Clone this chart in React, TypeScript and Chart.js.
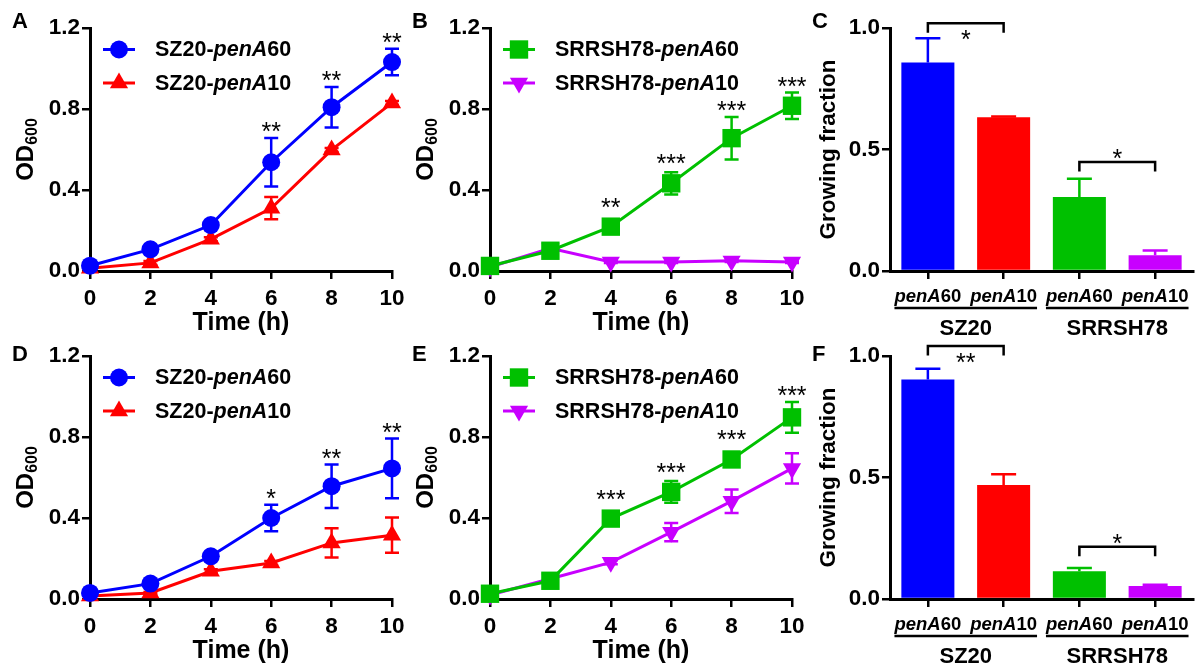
import React, { useEffect, useRef } from 'react';
import { Chart, registerables } from 'chart.js';
import { drawPoint } from 'chart.js/helpers';

Chart.register(...registerables);

const FONT = '"Liberation Sans", Arial, Helvetica, sans-serif';
const BLUE = '#0000ff';
const RED = '#ff0000';
const GREEN = '#00c000';
const PURPLE = '#c800ff';

// ---------- shared ----------
const timeHours = [0, 2, 4, 6, 8, 10];

// ---------- Panel A ----------
const aNames = ['SZ20-penA60', 'SZ20-penA10'];
const aPenA60 = [0.026, 0.107, 0.227, 0.537, 0.809, 1.032];
const aPenA60Err = [0.01, 0.01, 0.01, 0.12, 0.1, 0.065];
const aPenA10 = [0.013, 0.04, 0.157, 0.31, 0.598, 0.83];
const aPenA10Err = [0.005, 0.01, 0.01, 0.055, 0.01, 0.01];
const aStars = ['', '', '', '**', '**', '**'];

// ---------- Panel B ----------
const bNames = ['SRRSH78-penA60', 'SRRSH78-penA10'];
const bPenA60 = [0.025, 0.1, 0.219, 0.433, 0.656, 0.816];
const bPenA60Err = [0.01, 0.01, 0.01, 0.055, 0.105, 0.065];
const bPenA10 = [0.02, 0.112, 0.045, 0.045, 0.05, 0.045];
const bPenA10Err = [0.005, 0.01, 0.005, 0.005, 0.005, 0.005];
const bStars = ['', '', '**', '***', '***', '***'];

// ---------- Panel D ----------
const dNames = ['SZ20-penA60', 'SZ20-penA10'];
const dPenA60 = [0.03, 0.076, 0.211, 0.4, 0.557, 0.645];
const dPenA60Err = [0.01, 0.01, 0.01, 0.065, 0.107, 0.147];
const dPenA10 = [0.015, 0.03, 0.137, 0.178, 0.277, 0.315];
const dPenA10Err = [0.005, 0.005, 0.01, 0.01, 0.072, 0.087];
const dStars = ['', '', '', '*', '**', '**'];

// ---------- Panel E ----------
const eNames = ['SRRSH78-penA60', 'SRRSH78-penA10'];
const ePenA60 = [0.026, 0.09, 0.397, 0.529, 0.689, 0.897];
const ePenA60Err = [0.01, 0.01, 0.01, 0.054, 0.01, 0.076];
const ePenA10 = [0.02, 0.1, 0.181, 0.33, 0.483, 0.645];
const ePenA10Err = [0.005, 0.01, 0.01, 0.045, 0.058, 0.075];
const eStars = ['', '', '***', '***', '***', '***'];

// ---------- Bar panels (C, F) ----------
const barLabels = ['penA60', 'penA10', 'penA60', 'penA10'];
const barGroups = ['SZ20', 'SRRSH78'];
const barGroupMembers = [[0, 1], [2, 3]];
const barColors = [BLUE, RED, GREEN, PURPLE];

const cFraction = [0.858, 0.633, 0.305, 0.065];
const cFractionErr = [0.1, 0.003, 0.075, 0.019];
const cBracketPairs = [[0, 1], [2, 3]];
const cBracketLevels = [1.02, 0.449];
const cBracketStars = ['*', '*'];
const cBracketStarSide = ['below', 'above'];

const fFraction = [0.903, 0.469, 0.114, 0.054];
const fFractionErr = [0.045, 0.044, 0.014, 0.005];
const fBracketPairs = [[0, 1], [2, 3]];
const fBracketLevels = [1.041, 0.215];
const fBracketStars = ['**', '*'];
const fBracketStarSide = ['below', 'above'];

const odTickStep = 0.4;
const fractionTickStep = 0.5;

// ---------- marker styles ----------
const MARK = {
  circle: { pointStyle: 'circle', radius: 9, rotation: 0 },
  triangle: { pointStyle: 'triangle', radius: 10.5, rotation: 0 },
  square: { pointStyle: 'rect', radius: 13, rotation: 0 },
  down: { pointStyle: 'triangle', radius: 10.5, rotation: 180 },
};

type Mark = { pointStyle: string; radius: number; rotation: number };
type Series = { name: string; values: number[]; errors: number[]; color: string; mark: Mark };

const TICK_SIZE = 22.5;
const STAR_SIZE = 25;

function font(size: number, italic = false, bold = true) {
  return `${italic ? 'italic ' : ''}${bold ? 'bold ' : ''}${size}px ${FONT}`;
}

function richParts(text: string) {
  return text.split(/(penA)/).filter((p) => p.length > 0).map((p) => ({ text: p, italic: p === 'penA' }));
}

function richWidth(ctx: CanvasRenderingContext2D, text: string, size: number) {
  let w = 0;
  for (const p of richParts(text)) {
    ctx.font = font(size, p.italic);
    w += ctx.measureText(p.text).width;
  }
  return w;
}

function drawRich(ctx: CanvasRenderingContext2D, text: string, x: number, y: number, size: number, align: 'left' | 'center') {
  const total = richWidth(ctx, text, size);
  let cx = align === 'center' ? x - total / 2 : x;
  const left = cx;
  ctx.textAlign = 'left';
  for (const p of richParts(text)) {
    ctx.font = font(size, p.italic);
    ctx.fillText(p.text, cx, y);
    cx += ctx.measureText(p.text).width;
  }
  return { left, right: cx };
}

function drawStars(ctx: CanvasRenderingContext2D, text: string, x: number, center: number) {
  ctx.font = font(STAR_SIZE, false, false);
  ctx.textAlign = 'center';
  ctx.textBaseline = 'alphabetic';
  ctx.fillStyle = '#000';
  ctx.fillText(text, x, center + 0.6 * STAR_SIZE);
}

function drawLetter(ctx: CanvasRenderingContext2D, letter: string, top: number) {
  ctx.save();
  ctx.fillStyle = '#000';
  ctx.font = font(22);
  ctx.textAlign = 'left';
  ctx.textBaseline = 'alphabetic';
  ctx.fillText(letter, 12, top);
  ctx.restore();
}

function axisCommon() {
  return {
    grid: { drawOnChartArea: false, drawTicks: true, tickLength: 8, color: '#000', lineWidth: 2.5 },
    border: { display: true, color: '#000', width: 3 },
  };
}

// ---------- line panel ----------
type LinePanel = {
  kind: 'line';
  left: number; top: number; width: number; height: number;
  letter: string; letterDy: number;
  series: Series[];
  stars: string[];
};

function linePlugin(p: LinePanel) {
  return {
    id: 'lineDeco',
    beforeDatasetsDraw(chart: any) {
      const ctx = chart.ctx as CanvasRenderingContext2D;
      const xs = chart.scales.x;
      const ys = chart.scales.y;
      ctx.save();
      ctx.lineWidth = 2.5;
      for (let si = p.series.length - 1; si >= 0; si--) {
        const s = p.series[si];
        ctx.strokeStyle = s.color;
        s.values.forEach((v, j) => {
          const e = s.errors[j];
          const x = xs.getPixelForValue(timeHours[j]);
          const y1 = ys.getPixelForValue(v + e);
          const y2 = ys.getPixelForValue(Math.max(v - e, 0));
          ctx.beginPath();
          ctx.moveTo(x, y1); ctx.lineTo(x, y2);
          ctx.moveTo(x - 7, y1); ctx.lineTo(x + 7, y1);
          ctx.moveTo(x - 7, y2); ctx.lineTo(x + 7, y2);
          ctx.stroke();
        });
      }
      ctx.restore();
    },
    afterDraw(chart: any) {
      const ctx = chart.ctx as CanvasRenderingContext2D;
      const xs = chart.scales.x;
      const ys = chart.scales.y;
      const area = chart.chartArea;
      ctx.save();
      // significance stars above the first series
      const s0 = p.series[0];
      p.stars.forEach((st, j) => {
        if (!st) return;
        const x = xs.getPixelForValue(timeHours[j]);
        const top = Math.min(ys.getPixelForValue(s0.values[j] + s0.errors[j]), ys.getPixelForValue(s0.values[j]) - s0.mark.radius);
        drawStars(ctx, st, x, top - 13);
      });
      // legend
      p.series.forEach((s, i) => {
        const y = area.top + 21.5 + 33.5 * i;
        const lx = area.left;
        ctx.strokeStyle = s.color;
        ctx.lineWidth = 3;
        ctx.beginPath();
        ctx.moveTo(lx + 13, y); ctx.lineTo(lx + 45, y);
        ctx.stroke();
        ctx.fillStyle = s.color;
        drawPoint(ctx, { pointStyle: s.mark.pointStyle as any, radius: s.mark.radius, rotation: s.mark.rotation, borderWidth: 0 } as any, lx + 29, y);
        ctx.fillStyle = '#000';
        ctx.textBaseline = 'middle';
        drawRich(ctx, s.name, lx + 65, y + 1, 21.5, 'left');
      });
      // x title
      ctx.fillStyle = '#000';
      ctx.textBaseline = 'alphabetic';
      ctx.textAlign = 'center';
      ctx.font = font(25);
      ctx.fillText('Time (h)', (area.left + area.right) / 2, area.bottom + 59);
      // y title OD600
      ctx.save();
      const midY = (area.top + area.bottom) / 2;
      ctx.translate(24, midY);
      ctx.rotate(-Math.PI / 2);
      ctx.font = font(24);
      const wOD = ctx.measureText('OD').width;
      ctx.font = font(16);
      const wSub = ctx.measureText('600').width;
      const start = -(wOD + wSub) / 2;
      ctx.textAlign = 'left';
      ctx.font = font(24);
      ctx.fillText('OD', start, 8.6);
      ctx.font = font(16);
      ctx.fillText('600', start + wOD, 13);
      ctx.restore();
      ctx.restore();
      drawLetter(ctx, p.letter, area.top + p.letterDy);
    },
  };
}

function lineConfig(p: LinePanel): any {
  return {
    type: 'line',
    data: {
      datasets: p.series.map((s) => ({
        label: s.name,
        data: timeHours.map((t, i) => ({ x: t, y: s.values[i] })),
        borderColor: s.color,
        backgroundColor: s.color,
        borderWidth: 3,
        pointStyle: s.mark.pointStyle,
        pointRadius: s.mark.radius,
        pointRotation: s.mark.rotation,
        pointBorderWidth: 0,
        pointBackgroundColor: s.color,
        pointBorderColor: s.color,
        tension: 0,
        clip: false,
      })),
    },
    options: {
      animation: false,
      responsive: false,
      events: [],
      layout: { padding: { top: 28, right: p.width - 392, left: 0, bottom: 0 } },
      plugins: { legend: { display: false }, tooltip: { enabled: false } },
      scales: {
        x: {
          type: 'linear', min: 0, max: 10,
          ticks: { stepSize: 2, color: '#000', font: { family: FONT, size: TICK_SIZE, weight: 'bold' }, padding: 6, maxRotation: 0 },
          ...axisCommon(),
          afterFit: (s: any) => { s.height = p.height - 271; },
        },
        y: {
          min: 0, max: 1.2,
          ticks: { stepSize: odTickStep, color: '#000', font: { family: FONT, size: TICK_SIZE, weight: 'bold' }, padding: 2, callback: (v: number) => v.toFixed(1) },
          ...axisCommon(),
          afterFit: (s: any) => { s.width = 90; },
        },
      },
    },
    plugins: [linePlugin(p)],
  };
}

// ---------- bar panel ----------
type BarPanel = {
  kind: 'bar';
  left: number; top: number; width: number; height: number;
  letter: string; letterDy: number;
  values: number[]; errors: number[];
  bracketPairs: number[][]; bracketLevels: number[]; bracketStars: string[]; bracketStarSide: string[];
};

function barPlugin(p: BarPanel) {
  return {
    id: 'barDeco',
    afterDatasetsDraw(chart: any) {
      const ctx = chart.ctx as CanvasRenderingContext2D;
      const xs = chart.scales.x;
      const ys = chart.scales.y;
      ctx.save();
      ctx.lineWidth = 2.5;
      p.values.forEach((v, i) => {
        const x = xs.getPixelForValue(i);
        const y0 = ys.getPixelForValue(v);
        const y1 = ys.getPixelForValue(v + p.errors[i]);
        ctx.strokeStyle = barColors[i];
        ctx.beginPath();
        ctx.moveTo(x, y0); ctx.lineTo(x, y1);
        ctx.moveTo(x - 12.5, y1); ctx.lineTo(x + 12.5, y1);
        ctx.stroke();
      });
      ctx.restore();
    },
    afterDraw(chart: any) {
      const ctx = chart.ctx as CanvasRenderingContext2D;
      const xs = chart.scales.x;
      const ys = chart.scales.y;
      const area = chart.chartArea;
      ctx.save();
      // brackets
      ctx.strokeStyle = '#000';
      ctx.fillStyle = '#000';
      ctx.lineWidth = 2.5;
      p.bracketPairs.forEach((pair, k) => {
        const xa = xs.getPixelForValue(pair[0]);
        const xb = xs.getPixelForValue(pair[1]);
        const y = ys.getPixelForValue(p.bracketLevels[k]);
        ctx.beginPath();
        ctx.moveTo(xa, y + 9.5); ctx.lineTo(xa, y); ctx.lineTo(xb, y); ctx.lineTo(xb, y + 9.5);
        ctx.stroke();
        const c = p.bracketStarSide[k] === 'below' ? y + 10 : y - 10;
        drawStars(ctx, p.bracketStars[k], (xa + xb) / 2, c);
      });
      // category labels
      ctx.fillStyle = '#000';
      ctx.textBaseline = 'alphabetic';
      const extents: { left: number; right: number }[] = [];
      barLabels.forEach((lab, i) => {
        const x = xs.getPixelForValue(i);
        extents.push(drawRich(ctx, lab, x, area.bottom + 31, 18.5, 'center'));
      });
      // group underline + names
      barGroups.forEach((g, gi) => {
        const m = barGroupMembers[gi];
        const l = extents[m[0]].left;
        const r = extents[m[m.length - 1]].right;
        ctx.beginPath();
        ctx.lineWidth = 2.5;
        ctx.moveTo(l, area.bottom + 37); ctx.lineTo(r, area.bottom + 37);
        ctx.stroke();
        ctx.font = font(22);
        ctx.textAlign = 'center';
        ctx.fillText(g, (xs.getPixelForValue(m[0]) + xs.getPixelForValue(m[m.length - 1])) / 2, area.bottom + 64);
      });
      // y title
      ctx.save();
      ctx.translate(35, (area.top + area.bottom) / 2);
      ctx.rotate(-Math.PI / 2);
      ctx.font = font(22.5);
      ctx.textAlign = 'center';
      ctx.fillText('Growing fraction', 0, 0);
      ctx.restore();
      ctx.restore();
      drawLetter(ctx, p.letter, area.top + p.letterDy);
    },
  };
}

function barConfig(p: BarPanel): any {
  return {
    type: 'bar',
    data: {
      labels: barLabels,
      datasets: [{
        data: p.values,
        backgroundColor: barColors,
        borderWidth: 0,
        barPercentage: 0.7,
        categoryPercentage: 1,
      }],
    },
    options: {
      animation: false,
      responsive: false,
      events: [],
      layout: { padding: { top: 28, right: 2, left: 0, bottom: 0 } },
      plugins: { legend: { display: false }, tooltip: { enabled: false } },
      scales: {
        x: {
          type: 'category',
          ticks: { display: false },
          grid: { offset: false, drawOnChartArea: false, drawTicks: true, tickLength: 8, color: '#000', lineWidth: 2.5 },
          border: { display: true, color: '#000', width: 3 },
          afterFit: (s: any) => { s.height = p.height - 271; },
        },
        y: {
          min: 0, max: 1.0,
          ticks: { stepSize: fractionTickStep, color: '#000', font: { family: FONT, size: TICK_SIZE, weight: 'bold' }, padding: 2, callback: (v: number) => v.toFixed(1) },
          ...axisCommon(),
          afterFit: (s: any) => { s.width = 90; },
        },
      },
    },
    plugins: [barPlugin(p)],
  };
}

type Panel = LinePanel | BarPanel;

const ROW1 = { top: 0, height: 340, letterDy: 0 };
const ROW2 = { top: 328, height: 338, letterDy: 5 };

const panels: Panel[] = [
  {
    kind: 'line', left: 0, top: ROW1.top, width: 430, height: ROW1.height, letter: 'A', letterDy: ROW1.letterDy,
    series: [
      { name: aNames[0], values: aPenA60, errors: aPenA60Err, color: BLUE, mark: MARK.circle },
      { name: aNames[1], values: aPenA10, errors: aPenA10Err, color: RED, mark: MARK.triangle },
    ],
    stars: aStars,
  },
  {
    kind: 'line', left: 400, top: ROW1.top, width: 430, height: ROW1.height, letter: 'B', letterDy: ROW1.letterDy,
    series: [
      { name: bNames[0], values: bPenA60, errors: bPenA60Err, color: GREEN, mark: MARK.square },
      { name: bNames[1], values: bPenA10, errors: bPenA10Err, color: PURPLE, mark: MARK.down },
    ],
    stars: bStars,
  },
  {
    kind: 'bar', left: 800, top: ROW1.top, width: 395, height: ROW1.height, letter: 'C', letterDy: ROW1.letterDy,
    values: cFraction, errors: cFractionErr,
    bracketPairs: cBracketPairs, bracketLevels: cBracketLevels, bracketStars: cBracketStars, bracketStarSide: cBracketStarSide,
  },
  {
    kind: 'line', left: 0, top: ROW2.top, width: 430, height: ROW2.height, letter: 'D', letterDy: ROW2.letterDy,
    series: [
      { name: dNames[0], values: dPenA60, errors: dPenA60Err, color: BLUE, mark: MARK.circle },
      { name: dNames[1], values: dPenA10, errors: dPenA10Err, color: RED, mark: MARK.triangle },
    ],
    stars: dStars,
  },
  {
    kind: 'line', left: 400, top: ROW2.top, width: 430, height: ROW2.height, letter: 'E', letterDy: ROW2.letterDy,
    series: [
      { name: eNames[0], values: ePenA60, errors: ePenA60Err, color: GREEN, mark: MARK.square },
      { name: eNames[1], values: ePenA10, errors: ePenA10Err, color: PURPLE, mark: MARK.down },
    ],
    stars: eStars,
  },
  {
    kind: 'bar', left: 800, top: ROW2.top, width: 395, height: ROW2.height, letter: 'F', letterDy: ROW2.letterDy,
    values: fFraction, errors: fFractionErr,
    bracketPairs: fBracketPairs, bracketLevels: fBracketLevels, bracketStars: fBracketStars, bracketStarSide: fBracketStarSide,
  },
];

function PanelCanvas({ panel }: { panel: Panel }) {
  const ref = useRef<HTMLCanvasElement | null>(null);
  useEffect(() => {
    if (!ref.current) return;
    const cfg = panel.kind === 'line' ? lineConfig(panel) : barConfig(panel);
    const chart = new Chart(ref.current, cfg);
    return () => chart.destroy();
  }, [panel]);
  return (
    <canvas
      ref={ref}
      width={panel.width}
      height={panel.height}
      style={{ position: 'absolute', left: panel.left, top: panel.top, width: panel.width, height: panel.height }}
    />
  );
}

export default function App() {
  return (
    <div style={{ position: 'absolute', left: 0, top: 0, width: 1195, height: 666, background: '#fff', overflow: 'hidden' }}>
      {panels.map((p, i) => (
        <PanelCanvas key={i} panel={p} />
      ))}
    </div>
  );
}
